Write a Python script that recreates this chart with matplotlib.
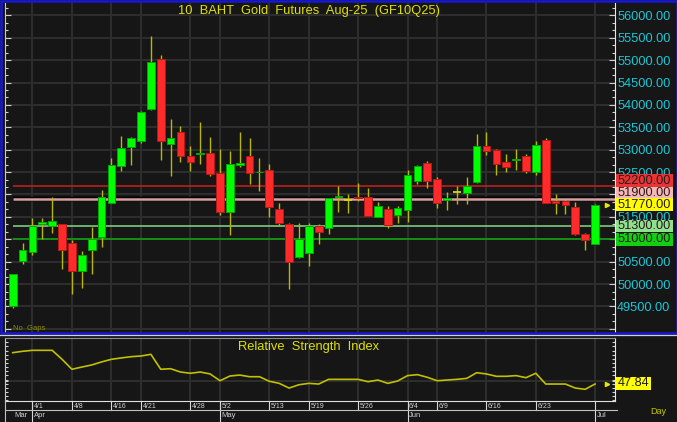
import matplotlib
matplotlib.use("Agg")
import matplotlib.pyplot as plt
import matplotlib.transforms as mtransforms
from matplotlib.lines import Line2D
from matplotlib.patches import Rectangle
from matplotlib.ticker import MultipleLocator, FuncFormatter

plt.rcParams['font.family'] = ['Liberation Sans', 'DejaVu Sans']

# daily candles, 10 baht gold futures GF10Q25
dates = ["3/28", "3/31", "4/1", "4/2", "4/3", "4/4", "4/8", "4/9", "4/10", "4/11",
         "4/16", "4/17", "4/18", "4/21", "4/22", "4/23", "4/24", "4/25", "4/28", "4/29",
         "4/30", "5/2", "5/6", "5/7", "5/8", "5/9", "5/13", "5/14", "5/15", "5/16",
         "5/19", "5/20", "5/21", "5/22", "5/23", "5/26", "5/27", "5/28", "5/29", "5/30",
         "6/4", "6/5", "6/6", "6/9", "6/10", "6/11", "6/12", "6/13", "6/16", "6/17",
         "6/18", "6/19", "6/20", "6/23", "6/24", "6/25", "6/26", "6/27", "6/30", "7/1"]
opens = [49520, 50520, 50720, 51340, 51300, 51340, 50910, 50300, 50760, 51060,
         51820, 52640, 53050, 53190, 53900, 55030, 53120, 53390, 52850, 52900,
         52930, 52470, 51620, 52650, 52850, 52500, 52550, 51670, 51340, 50610,
         50700, 51300, 51250, 51940, 51870, 51950, 51950, 51490, 51670, 51540,
         51650, 52310, 52710, 52350, 51880, 52050, 52030, 52270, 53090, 52990,
         52730, 52760, 52850, 52500, 53220, 51850, 51850, 51730, 51110, 50900]
highs = [50220, 50910, 51470, 51470, 51940, 51340, 50990, 50740, 51280, 52100,
         52820, 53310, 53290, 53870, 55540, 55110, 53690, 53540, 53090, 53610,
         53290, 53020, 52970, 53390, 53270, 52820, 52670, 51820, 51370, 51360,
         51370, 51340, 51930, 52200, 52000, 52250, 52150, 51840, 51750, 51750,
         52550, 52660, 52750, 52400, 52050, 52180, 52380, 53350, 53400, 53020,
         52910, 53020, 52900, 53190, 53270, 52010, 51900, 51840, 51130, 51790]
lows = [49460, 50440, 50640, 51010, 51130, 50340, 49780, 49920, 50220, 50820,
        51800, 52520, 52660, 53160, 53890, 52770, 52420, 52730, 52530, 52670,
        52420, 51540, 51100, 52620, 52240, 52070, 51490, 51300, 49900, 50590,
        50400, 50890, 51120, 51620, 51580, 51860, 51520, 51490, 51250, 51360,
        51390, 52240, 52150, 51690, 51650, 51790, 51790, 52250, 52880, 52430,
        52510, 52550, 52470, 52430, 51800, 51570, 51570, 51100, 50760, 50900]
closes = [50220, 50760, 51300, 51380, 51410, 50750, 50290, 50650, 51010, 51950,
          52650, 53030, 53270, 53850, 54950, 53190, 53270, 52860, 52720, 52920,
          52450, 51600, 52670, 52710, 52470, 52510, 51710, 51360, 50500, 51010,
          51300, 51160, 51930, 51960, 51870, 51920, 51520, 51750, 51320, 51690,
          52430, 52640, 52300, 51820, 51930, 52050, 52180, 53090, 52970, 52670,
          52610, 52790, 52530, 53110, 51800, 51810, 51770, 51120, 50990, 51770]
rsi = [70.5, 71.5, 72.2, 72.2, 72.2, 65.7, 58.5, 60.1, 61.6, 63.8,
       65.7, 66.7, 67.6, 68.1, 69.3, 58.5, 58.9, 56.5, 55.6, 56.5,
       55.1, 50.2, 53.6, 54.3, 53.1, 53.1, 49.8, 48.3, 44.9, 47.3,
       48.3, 47.8, 51.2, 51.2, 51.2, 51.2, 49.5, 50.7, 48.3, 50.0,
       53.9, 54.6, 52.7, 50.2, 50.7, 51.2, 51.9, 56.0, 55.1, 53.4,
       53.4, 53.9, 52.4, 55.6, 47.8, 47.8, 47.8, 44.9, 44.0, 47.84]

tick_dates = ["4/1", "4/8", "4/16", "4/21", "4/28", "5/2", "5/13", "5/19",
              "5/26", "6/4", "6/9", "6/16", "6/23"]
month_dates = ["3/28", "4/1", "5/2", "6/4", "7/1"]
month_names = ["Mar", "Apr", "May", "Jun", "Jul"]

levels = [52200, 51900, 51300, 51000]
level_colors = ['#c82020', '#d8a0a0', '#88d888', '#10a810']
box_colors = ['#e83434', '#f4b8b8', '#90e090', '#10d010']
level_shift_px = [5, 6, 0, 0]
last_price = 51770
rsi_last = 47.84
hidden_scale_labels = [49000, 52000]   # not shown / covered by the boxes

W, H = 677, 422
BG = '#161616'
GRID = '#2e2e2e'


def fx(px):
    return px / W


def fy(py):
    return 1 - py / H


def rect(x0, y0, x1, y1):
    return [fx(x0), fy(y1), (x1 - x0) / W, (y1 - y0) / H]


def scale_label(v, pos):
    if any(abs(v - h) < 1 for h in hidden_scale_labels):
        return ""
    return "%.2f" % v


fig = plt.figure(figsize=(W / 100, H / 100), dpi=100, facecolor=BG)
ax = fig.add_axes(rect(5, 3, 615, 333), facecolor=BG)
ax_r = fig.add_axes(rect(5, 338.3, 615, 400.7), facecolor=BG)

n = len(dates)
xs = list(range(n))
xlim = (-0.78, 61.02)

# --- price panel ---
ax.vlines(xs, lows, highs, color='#b8b800', lw=1.0, zorder=3)
for i in xs:
    o, c = opens[i], closes[i]
    if c > o:
        ax.bar(i, c - o, bottom=o, width=0.78, color='#00ff00', edgecolor='#00a800', lw=0.7, zorder=4)
    elif c < o:
        ax.bar(i, o - c, bottom=c, width=0.78, color='#ff2a2a', edgecolor='#b81818', lw=0.7, zorder=4)
    else:
        ax.hlines(o, i - 0.39, i + 0.39, color='#d8d800', lw=1.3, zorder=4)

for lv, col in zip(levels, level_colors):
    if lv == 51900:
        ax.hlines(lv, 0, xlim[1], color='#000000', lw=3.2, zorder=2)
        ax.hlines(lv, 0, xlim[1], color=col, lw=1.8, zorder=2.1)
    else:
        ax.hlines(lv, 0, xlim[1], color=col, lw=1.1, zorder=2.1)

ax.set_xlim(*xlim)
ax.set_ylim(48908, 56275)
tick_idx = [dates.index(d) for d in tick_dates] + [dates.index("7/1")]
ax.set_xticks(tick_idx)
ax.tick_params(axis='x', bottom=False, labelbottom=False)
ax.yaxis.set_major_locator(MultipleLocator(500))
ax.yaxis.set_minor_locator(MultipleLocator(500 / 3))
ax.yaxis.set_major_formatter(FuncFormatter(scale_label))
ax.tick_params(axis='y', which='both', left=True, right=True, direction='in',
               color='#d0d0d0', labelleft=False, labelright=True,
               labelcolor='#18c8d8', labelsize=9.2, pad=1.5)
ax.tick_params(axis='y', which='major', length=4, width=0.8)
ax.tick_params(axis='y', which='minor', length=2.5, width=0.8)
ax.grid(True, color=GRID, lw=1.4, zorder=0)
for s in ['top', 'bottom']:
    ax.spines[s].set_visible(False)
ax.spines['left'].set_color('#c8c8c8')
ax.spines['right'].set_color('#e8e8e8')

# level boxes on the right scale
px_per_unit = 330 / (56275 - 48908)
box_tr = mtransforms.blended_transform_factory(fig.transFigure, ax.transData)
half = 6.3 / px_per_unit
for lv, bc, sh in zip(levels + [last_price], box_colors + ['#ffff00'], level_shift_px + [0]):
    yc = lv + sh / px_per_unit
    ax.add_patch(Rectangle((fx(616), yc - half), fx(673) - fx(616), 2 * half,
                           transform=box_tr, facecolor=bc, edgecolor='none',
                           clip_on=False, zorder=10))
    ax.text(fx(617.5), yc, "%.2f" % lv, transform=box_tr, ha='left', va='center',
            fontsize=9.2, color='#2a1a1a', clip_on=False, zorder=11)
ax.plot([n + 0.2], [last_price], marker='>', ms=3, color='#e8e800', clip_on=False, zorder=6)

fig.text(fx(309), fy(11), "10  BAHT  Gold  Futures  Aug-25  (GF10Q25)",
         ha='center', va='center', fontsize=9.3, color='#e0e000')
fig.text(fx(13), fy(329), "No  Gaps", ha='left', va='center', fontsize=5.5, color='#8c8c00')

# --- RSI panel ---
ax_r.plot(xs, rsi, color='#c0c000', lw=1.2, zorder=3)
ax_r.plot([n + 0.2], [rsi_last], marker='>', ms=3, color='#e8e800', clip_on=False, zorder=6)
ax_r.set_xlim(*xlim)
ax_r.set_ylim(35.75, 80.9)
ax_r.set_xticks(tick_idx)
ax_r.set_yticks([50])
ax_r.yaxis.set_minor_locator(MultipleLocator(3))
ax_r.tick_params(axis='x', bottom=False, labelbottom=False)
ax_r.tick_params(axis='y', which='both', left=True, right=True, direction='in',
                 color='#d0d0d0', labelleft=False, labelright=False, length=2.5, width=0.8)
ax_r.grid(True, color=GRID, lw=1.4, zorder=0)
ax_r.spines['top'].set_color('#909090')
ax_r.spines['bottom'].set_color('#e0e0e0')
ax_r.spines['left'].set_color('#c8c8c8')
ax_r.spines['right'].set_color('#e8e8e8')
fig.text(fx(308.5), fy(347), "Relative  Strength  Index",
         ha='center', va='center', fontsize=9.3, color='#e0e000')
fig.patches.append(Rectangle((fx(616), fy(389.5)), fx(651) - fx(616), 12.5 / H,
                             transform=fig.transFigure, facecolor='#ffff00', edgecolor='none'))
fig.text(fx(617.5), fy(383.3), "%.2f" % rsi_last, ha='left', va='center', fontsize=9.2, color='#1a1a1a')

# --- date rows under RSI ---
row_tr = mtransforms.blended_transform_factory(ax_r.transData, fig.transFigure)
txt_tr = mtransforms.offset_copy(row_tr, fig=fig, x=1.5, y=0, units='dots')
for d in tick_dates:
    i = dates.index(d)
    fig.add_artist(Line2D([i, i], [fy(400.7), fy(410)], transform=row_tr, color='#d8d8d8', lw=0.8))
    fig.text(i, fy(406), d, transform=txt_tr, ha='left', va='center', fontsize=5, color='#d0d0d0')
for d, m in zip(month_dates, month_names):
    i = dates.index(d)
    if d != "3/28":
        fig.add_artist(Line2D([i, i], [fy(400.7), fy(421)], transform=row_tr, color='#d8d8d8', lw=0.8))
    fig.text(i, fy(415.5), m, transform=txt_tr, ha='left', va='center', fontsize=5.5, color='#d0d0d0')
fig.add_artist(Line2D([fx(5), fx(617)], [fy(410.3), fy(410.3)], color='#c0c0c0', lw=0.8))
fig.add_artist(Line2D([fx(5), fx(5)], [fy(400), fy(421)], color='#c0c0c0', lw=0.8))
fig.text(fx(650), fy(411), "Day", ha='left', va='center', fontsize=6.5, color='#c8c800')

# frame around the price pane
fig.patches.append(Rectangle((fx(1), fy(332.5)), fx(675.5), (331.5) / H, transform=fig.transFigure,
                             facecolor='none', edgecolor='#1818d8', lw=1.8))
fig.add_artist(Line2D([0, 1], [fy(335.3), fy(335.3)], color='#d0d0d0', lw=0.9))

fig.savefig('out.png', dpi=100, facecolor=fig.get_facecolor())
